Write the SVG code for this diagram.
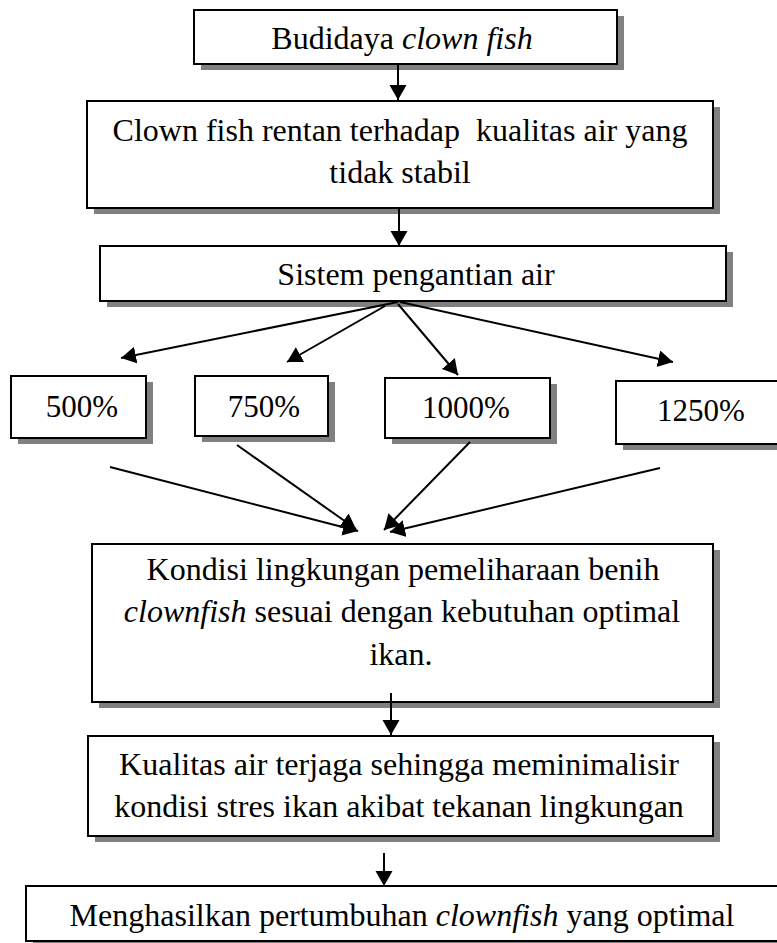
<svg xmlns="http://www.w3.org/2000/svg" width="777" height="943" viewBox="0 0 777 943">
<defs>
<style>
.box{fill:#fff;stroke:#000;stroke-width:2}
.sh{fill:#808080}
.t{font-size:32px;fill:#000;text-anchor:middle}
.i{font-style:italic}
.c{stroke:#000;stroke-width:2;fill:none;marker-end:url(#ah)}
</style>
<marker id="ah" markerUnits="userSpaceOnUse" markerWidth="16" markerHeight="18" refX="15" refY="8.5" orient="auto" viewBox="0 0 16 18">
<path d="M0,0 L15,8.5 L0,17 z" fill="#000"/>
</marker>
</defs>
<rect width="777" height="943" fill="#fff"/>
<g font-family="'Liberation Serif', 'DejaVu Serif', serif">
<g id="n1">
<rect class="sh" x="201" y="16" width="423" height="54"/>
<rect class="box" x="194" y="10" width="423" height="54"/>
<text class="t" x="402" y="49" font-size="30">Budidaya <tspan class="i">clown fish</tspan></text>
</g>
<g id="n2">
<rect class="sh" x="94" y="107" width="626" height="107"/>
<rect class="box" x="87" y="101" width="626" height="107"/>
<text class="t" x="400" y="141" xml:space="preserve">Clown fish rentan terhadap  kualitas air yang</text>
<text class="t" x="400" y="183">tidak stabil</text>
</g>
<g id="n3">
<rect class="sh" x="107" y="252" width="626" height="55"/>
<rect class="box" x="100" y="246" width="626" height="55"/>
<text class="t" x="416" y="285">Sistem pengantian air</text>
</g>
<g id="n500">
<rect class="sh" x="18" y="382" width="135" height="62"/>
<rect class="box" x="11" y="376" width="135" height="62"/>
<text class="t" x="82" y="417" style="font-size:31px">500%</text>
</g>
<g id="n750">
<rect class="sh" x="202" y="382" width="133" height="60"/>
<rect class="box" x="195" y="376" width="133" height="60"/>
<text class="t" x="264" y="417" style="font-size:31px">750%</text>
</g>
<g id="n1000">
<rect class="sh" x="392" y="384" width="165" height="60"/>
<rect class="box" x="385" y="378" width="165" height="60"/>
<text class="t" x="466" y="418" style="font-size:31px">1000%</text>
</g>
<g id="n1250">
<rect class="sh" x="623" y="387" width="165" height="63"/>
<rect class="box" x="616" y="381" width="165" height="63"/>
<text class="t" x="701" y="421" style="font-size:31px">1250%</text>
</g>
<g id="n4">
<rect class="sh" x="99" y="550" width="621" height="158"/>
<rect class="box" x="92" y="544" width="621" height="158"/>
<text class="t" x="403" y="580">Kondisi lingkungan pemeliharaan benih</text>
<text class="t" x="402" y="622"><tspan class="i">clownfish</tspan> sesuai dengan kebutuhan optimal</text>
<text class="t" x="401" y="665">ikan.</text>
</g>
<g id="n5">
<rect class="sh" x="95" y="742" width="625" height="100"/>
<rect class="box" x="88" y="736" width="625" height="100"/>
<text class="t" x="399" y="775">Kualitas air terjaga sehingga meminimalisir</text>
<text class="t" x="399" y="817">kondisi stres ikan akibat tekanan lingkungan</text>
</g>
<g id="n6">
<rect class="sh" x="33" y="892" width="760" height="55"/>
<rect class="box" x="26" y="886" width="760" height="55"/>
<text class="t" x="402" y="926">Menghasilkan pertumbuhan <tspan class="i">clownfish</tspan> yang optimal</text>
</g>
</g>
<g id="connectors">
<line class="c" x1="398" y1="64" x2="398" y2="100"/>
<line class="c" x1="399" y1="208" x2="399" y2="246"/>
<line class="c" x1="398" y1="302" x2="121" y2="358"/>
<line class="c" x1="385" y1="306" x2="287" y2="362"/>
<line class="c" x1="398" y1="304" x2="458" y2="375"/>
<line class="c" x1="400" y1="302" x2="673" y2="362"/>
<line class="c" x1="110" y1="467" x2="358" y2="531"/>
<line class="c" x1="237" y1="445" x2="356" y2="529"/>
<line class="c" x1="470" y1="442" x2="384" y2="530"/>
<line class="c" x1="660" y1="468" x2="390" y2="532"/>
<line class="c" x1="391" y1="693" x2="391" y2="735"/>
<line class="c" x1="384" y1="853" x2="384" y2="886"/>
</g>
</svg>
